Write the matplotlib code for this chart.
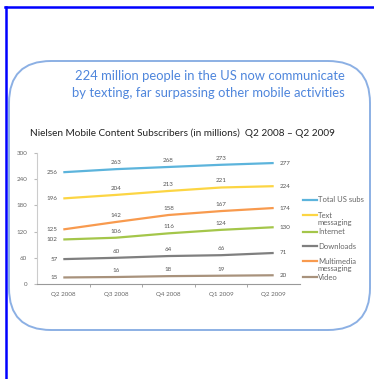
import matplotlib
matplotlib.use("Agg")
import matplotlib.pyplot as plt
from matplotlib.patches import FancyBboxPatch
from matplotlib.lines import Line2D

plt.rcParams['font.family'] = ['Lato', 'DejaVu Sans']

quarters = ['Q2 2008', 'Q3 2008', 'Q4 2008', 'Q1 2009', 'Q2 2009']
total_subs = [256, 263, 268, 273, 277]
text_msg = [196, 204, 213, 221, 224]
multimedia = [125, 142, 158, 167, 174]
internet = [102, 106, 116, 124, 130]
downloads = [57, 60, 64, 66, 71]
video = [15, 16, 18, 19, 20]

series = [
    ('Total US subs', total_subs, '#5cb4dc'),
    ('Text\nmessaging', text_msg, '#fcd543'),
    ('Internet', internet, '#a4c64a'),
    ('Downloads', downloads, '#7f7f7f'),
    ('Multimedia\nmessaging', multimedia, '#f89a4e'),
    ('Video', video, '#a8927c'),
]

W, H = 374, 379
fig = plt.figure(figsize=(W / 100, H / 100), dpi=100)
px = fig.dpi_scale_trans  # inches, so px/100

# blue slide frame (left and top edges)
fig.add_artist(Line2D([6 / 100, 6 / 100], [0, (H - 7) / 100], color='#0000ff', lw=1.8, transform=px))
fig.add_artist(Line2D([5 / 100, W / 100], [(H - 7) / 100, (H - 7) / 100], color='#0000ff', lw=1.8, transform=px))

# rounded box (behind the axes)
box = FancyBboxPatch((9 / 100, 49 / 100), 361 / 100, 269 / 100,
                     boxstyle='round,pad=0,rounding_size=0.42',
                     fc='white', ec='#8cb0e4', lw=1.4, transform=px, zorder=-1)
fig.add_artist(box)

fig.text(345 / W, 1 - 76 / H, '224 million people in the US now communicate',
         ha='right', va='center', color='#4f86dc', fontsize=9.4)
fig.text(345 / W, 1 - 93 / H, 'by texting, far surpassing other mobile activities',
         ha='right', va='center', color='#4f86dc', fontsize=9.4)
fig.text(30 / W, 1 - 133 / H,
         'Nielsen Mobile Content Subscribers (in millions)  Q2 2008 \u2013 Q2 2009',
         ha='left', va='center', color='#222222', fontsize=7.2)

ax = fig.add_axes([37 / W, 1 - 284 / H, 263 / W, 131 / H], zorder=2)
ax.set_facecolor('none')
x = range(len(quarters))
for name, vals, col in series:
    ax.plot(x, vals, color=col, lw=1.6, label=name, solid_capstyle='butt')
    for i, v in enumerate(vals):
        if i == 0:
            ax.annotate(str(v), (i, v), xytext=(-4, 0), textcoords='offset points',
                        ha='right', va='center', fontsize=4.5, color='#555555')
        elif i == len(vals) - 1:
            ax.annotate(str(v), (i, v), xytext=(4, 0), textcoords='offset points',
                        ha='left', va='center', fontsize=4.5, color='#555555')
        else:
            ax.annotate(str(v), (i, v), xytext=(0, 3), textcoords='offset points',
                        ha='center', va='bottom', fontsize=4.5, color='#555555')

ax.set_xlim(-0.5, len(quarters) - 0.5)
ax.set_ylim(0, 300)
ax.set_yticks(range(0, 301, 60))
ax.set_xticks(list(x))
ax.set_xticklabels(quarters)
ax.set_xticks([i + 0.5 for i in range(len(quarters) - 1)], minor=True)
ax.tick_params(axis='x', which='major', length=0, labelsize=4.5, labelcolor='#666666', pad=6)
ax.tick_params(axis='x', which='minor', length=2, color='#999999', direction='out')
ax.tick_params(axis='y', length=2, labelsize=4.5, labelcolor='#666666', color='#bbbbbb', pad=5)
for s in ['top', 'right']:
    ax.spines[s].set_visible(False)
ax.spines['left'].set_color('#cccccc')
ax.spines['bottom'].set_color('#999999')
ax.spines['left'].set_linewidth(0.8)
ax.spines['bottom'].set_linewidth(0.8)

# legend, entries placed as in the slide
leg_y = [200, 215, 232, 246, 261, 277]
for (name, vals, col), yy in zip(series, leg_y):
    fig.add_artist(Line2D([303 / W, 317 / W], [1 - yy / H, 1 - yy / H], color=col, lw=1.6,
                          transform=fig.transFigure))
    lines = name.split('\n')
    for k, part in enumerate(lines):
        fig.text(318 / W, 1 - (yy + 8 * k) / H, part, ha='left', va='center',
                 fontsize=5.5, color='#666666')

fig.savefig('out.png', dpi=100)
